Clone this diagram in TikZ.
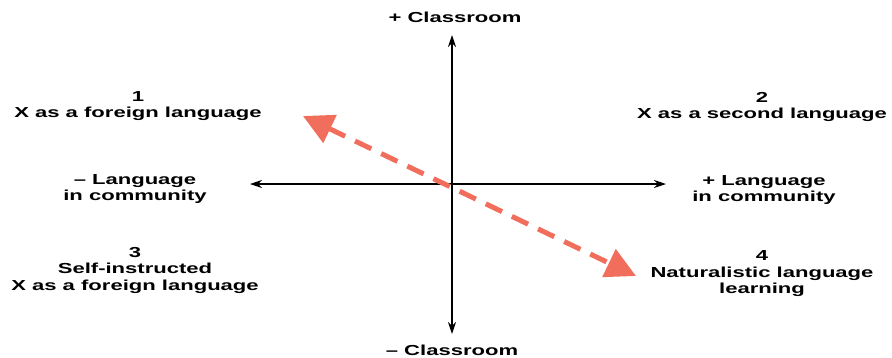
\documentclass[tikz,border=0pt]{standalone}
\usepackage{fontspec}
\setmainfont{Liberation Sans}[FakeStretch=1.52]
\usetikzlibrary{arrows.meta}
\definecolor{salmon}{RGB}{242,110,92}
\begin{document}
\begin{tikzpicture}[x=1pt,y=-1pt,
  lbl/.style={font=\bfseries\fontsize{14.5}{16.5}\selectfont, align=center, inner sep=0pt},
  axis/.style={line width=1.5pt, -{Stealth[length=12pt,width=8pt]}},
  redarrow/.style={line width=5pt, draw=salmon, dash pattern=on 18pt off 11pt,
     {Triangle[length=30pt,width=30pt,fill=salmon]}-{Triangle[length=30pt,width=30pt,fill=salmon]}}]
\useasboundingbox (0,0) rectangle (892,357);
\coordinate (o) at (452,184);
\coordinate (top) at (452,35);
\coordinate (bot) at (452,334);
\coordinate (lft) at (250,184);
\coordinate (rgt) at (666,184);
\draw[axis] (o) -- (top);
\draw[axis] (o) -- (bot);
\draw[axis] (o) -- (lft);
\draw[axis] (o) -- (rgt);
\coordinate (ra) at (303,116);
\coordinate (rb) at (636,276);
\draw[redarrow] (ra) -- (rb);
\node[lbl] (pc) at (455,17) {+ Classroom};
\node[lbl] (mc) at (452,350) {– Classroom};
\node[lbl] (q1) at (138,106) {1\\X as a foreign language};
\node[lbl] (q2) at (762,107) {2\\X as a second language};
\node[lbl] (ml) at (135,189) {– Language\\in community};
\node[lbl] (pl) at (764,190) {+ Language\\in community};
\node[lbl] (q3) at (135,270) {3\\Self-instructed\\X as a foreign language};
\node[lbl] (q4) at (762,274) {4\\Naturalistic language\\learning};
\end{tikzpicture}
\end{document}
